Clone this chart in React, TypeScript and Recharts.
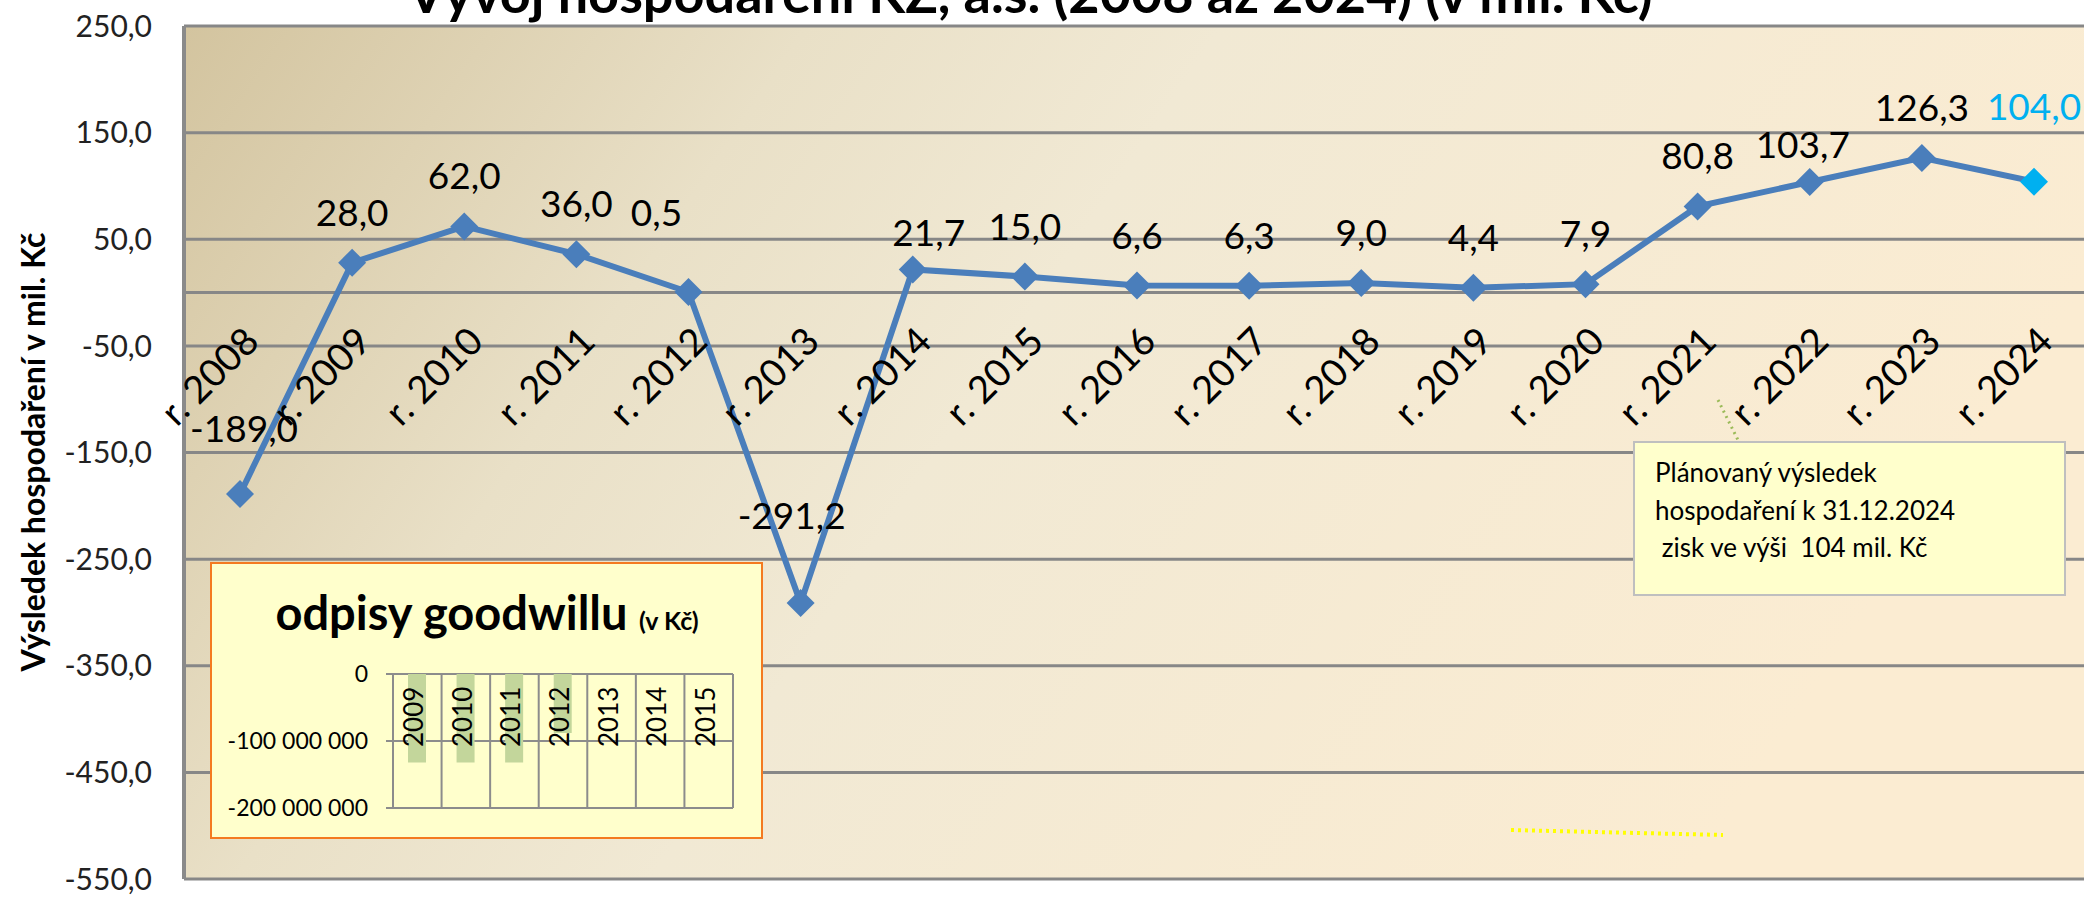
import {
  LineChart,
  Line,
  XAxis,
  YAxis,
  CartesianGrid,
  ReferenceLine,
  LabelList,
  BarChart,
  Bar,
} from 'recharts';

// main series: výsledek hospodaření (mil. Kč)
const years = [
  'r. 2008', 'r. 2009', 'r. 2010', 'r. 2011', 'r. 2012', 'r. 2013', 'r. 2014', 'r. 2015', 'r. 2016',
  'r. 2017', 'r. 2018', 'r. 2019', 'r. 2020', 'r. 2021', 'r. 2022', 'r. 2023', 'r. 2024',
];
const results = [
  -189.0, 28.0, 62.0, 36.0, 0.5, -291.2, 21.7, 15.0, 6.6, 6.3, 9.0, 4.4, 7.9, 80.8, 103.7, 126.3, 104.0,
];
const yTicks = [250, 150, 50, -50, -150, -250, -350, -450, -550];

// inset: odpisy goodwillu (Kč)
const gwYears = ['2009', '2010', '2011', '2012', '2013', '2014', '2015'];
const gwValues = [-132000000, -132000000, -132000000, -88000000, 0, 0, 0];
const gwTicks = [0, -100000000, -200000000];

const data = years.map((year, i) => ({ year, value: results[i] }));
const gwData = gwYears.map((year, i) => ({ year, value: gwValues[i] }));

const FONT = 'Lato, "Open Sans", sans-serif';
const BLUE = '#4a7ebb';
const CYAN = '#00b0f0';
const GRID = '#878787';

const Y_MIN = -550;
const Y_MAX = 250;
const PLOT_TOP = 26;
const PLOT_BOTTOM = 879;
const zeroY = PLOT_TOP + ((PLOT_BOTTOM - PLOT_TOP) * Y_MAX) / (Y_MAX - Y_MIN);

// hand-placed data labels in the original (dx, baseline dy)
const labelNudge: Record<string, [number, number]> = {
  'r. 2008': [4, -52],
  'r. 2012': [-32, -66],
  'r. 2013': [-9, -74],
  'r. 2014': [16, -23],
  'r. 2022': [-7, -24],
  'r. 2024': [0, -62],
};

const fmt1 = (v: number) => v.toFixed(1).replace('.', ',');
const fmtKc = (v: number) =>
  (v < 0 ? '-' : '') + String(Math.abs(v)).replace(/\B(?=(\d{3})+(?!\d))/g, ' ');

const Diamond = (props: any) => {
  const { cx, cy, index } = props;
  if (cx == null || cy == null) return null;
  const r = 14;
  return (
    <path
      key={`d-${index}`}
      d={`M${cx},${cy - r}L${cx + r},${cy}L${cx},${cy + r}L${cx - r},${cy}Z`}
      fill={index === years.length - 1 ? CYAN : BLUE}
    />
  );
};

const ValueLabel = (props: any) => {
  const { x, y, value, index } = props;
  const year = years[index];
  const [dx, dy] = labelNudge[year] ?? [0, -37];
  return (
    <text
      x={x + dx}
      y={y + dy}
      textAnchor="middle"
      fontFamily={FONT}
      fontSize={37}
      fill={index === years.length - 1 ? CYAN : '#000'}
    >
      {fmt1(value)}
    </text>
  );
};

const YearTick = (props: any) => {
  const { x, payload } = props;
  const ax = x + 21;
  const ay = zeroY + 51;
  return (
    <text
      x={ax}
      y={ay}
      textAnchor="end"
      transform={`rotate(-45 ${ax} ${ay})`}
      fontFamily={FONT}
      fontSize={38}
      fill="#000"
    >
      {payload.value}
    </text>
  );
};

const INSET_W = 553;
const INSET_H = 277;
const INSET_LEFT = 183;
const INSET_MARGIN = { top: 111, right: 30, bottom: 31, left: 0 };
const INSET_PLOT_TOP = 112;

const GwTick = (props: any) => {
  const { x, payload } = props;
  const ax = x + 6;
  const ay = INSET_PLOT_TOP + 73;
  return (
    <text
      x={ax}
      y={ay}
      transform={`rotate(-90 ${ax} ${ay})`}
      fontFamily={FONT}
      fontSize={26}
      fill="#000"
    >
      {payload.value}
    </text>
  );
};

function GoodwillInset() {
  const plotW = INSET_W - INSET_LEFT - INSET_MARGIN.right;
  return (
    <div style={{ position: 'absolute', left: 210, top: 562, width: INSET_W, height: INSET_H }}>
      <div
        style={{
          position: 'absolute',
          inset: 0,
          boxSizing: 'border-box',
          border: '2px solid #f47a20',
          background: '#ffffcc',
        }}
      />
      <div style={{ position: 'absolute', left: 0, top: 0 }}>
        <BarChart width={INSET_W} height={INSET_H} data={gwData} margin={INSET_MARGIN}>
          <CartesianGrid
            stroke="#8c8c8c"
            strokeWidth={2}
            verticalCoordinatesGenerator={() =>
              gwYears.map((_, i) => INSET_LEFT + (i * plotW) / gwYears.length).concat(INSET_LEFT + plotW)
            }
          />
          <XAxis
            dataKey="year"
            orientation="top"
            height={1}
            axisLine={false}
            tickLine={false}
            tick={(p: any) => <GwTick {...p} />}
            interval={0}
          />
          <YAxis
            width={INSET_LEFT}
            domain={[-200000000, 0]}
            ticks={gwTicks}
            tickFormatter={fmtKc}
            axisLine={false}
            tickLine={{ stroke: '#8c8c8c', strokeWidth: 2 }}
            tickSize={7}
            tickMargin={18}
            tick={{ fontFamily: FONT, fontSize: 23, fill: '#000' }}
          />
          <Bar dataKey="value" fill="#c3d69b" barSize={18} isAnimationActive={false} />
        </BarChart>
      </div>
      <svg
        width={INSET_W}
        height={INSET_H}
        style={{ position: 'absolute', left: 0, top: 0, pointerEvents: 'none' }}
      >
        <text x={277} y={68} textAnchor="middle" fontFamily={FONT} fontWeight="bold" fill="#000">
          <tspan fontSize={47}>odpisy goodwillu </tspan>
          <tspan fontSize={25}>(v Kč)</tspan>
        </text>
      </svg>
    </div>
  );
}

export default function App() {
  return (
    <div
      style={{
        position: 'absolute',
        left: 0,
        top: 0,
        width: 2084,
        height: 897,
        overflow: 'hidden',
        background: '#fff',
        fontFamily: FONT,
      }}
    >
      <div style={{ position: 'absolute', left: 0, top: 0 }}>
        <LineChart
          width={2090}
          height={897}
          data={data}
          margin={{ top: PLOT_TOP, right: 0, bottom: 897 - PLOT_BOTTOM - 1, left: 0 }}
        >
          <defs>
            <linearGradient id="plotBg" x1="0" y1="0" x2="1" y2="0.3">
              <stop offset="0" stopColor="#d3c49f" />
              <stop offset="0.3" stopColor="#e9e0c7" />
              <stop offset="0.5" stopColor="#f1e9d4" />
              <stop offset="1" stopColor="#fbecd2" />
            </linearGradient>
          </defs>
          <CartesianGrid vertical={false} stroke={GRID} strokeWidth={3} fill="url(#plotBg)" />
          <XAxis
            dataKey="year"
            height={1}
            axisLine={false}
            tickLine={false}
            tick={(p: any) => <YearTick {...p} />}
            interval={0}
            padding={{ left: 56, right: 56 }}
          />
          <YAxis
            width={184}
            domain={[Y_MIN, Y_MAX]}
            ticks={yTicks}
            tickFormatter={fmt1}
            axisLine={{ stroke: '#8a8a8a', strokeWidth: 4 }}
            tickLine={false}
            tickSize={0}
            tickMargin={32}
            tick={{ fontFamily: FONT, fontSize: 30, fill: '#222' }}
          />
          <ReferenceLine y={0} stroke={GRID} strokeWidth={3} />
          <Line
            type="linear"
            dataKey="value"
            stroke={BLUE}
            strokeWidth={6}
            dot={<Diamond />}
            activeDot={false}
            isAnimationActive={false}
          >
            <LabelList dataKey="value" content={<ValueLabel />} />
          </Line>
        </LineChart>
      </div>

      <svg
        width={2084}
        height={897}
        style={{ position: 'absolute', left: 0, top: 0, pointerEvents: 'none' }}
      >
        <text x={1030} y={13} textAnchor="middle" fontFamily={FONT} fontWeight="bold" fontSize={54}>
          Vývoj hospodaření KZ, a.s. (2008 až 2024) (v mil. Kč)
        </text>
        <text
          x={0}
          y={0}
          transform="translate(32 452) rotate(-90)"
          textAnchor="middle"
          dominantBaseline="central"
          fontFamily={FONT}
          fontWeight="bold"
          fontSize={32}
        >
          Výsledek hospodaření v mil. Kč
        </text>

        <line x1={1718} y1={400} x2={1738} y2={440} stroke="#9bbb59" strokeWidth={3} strokeDasharray="2 4" />
        <rect x={1634} y={442} width={431} height={153} fill="#ffffcc" stroke="#bfbfbf" strokeWidth={2} />
        <text fontFamily={FONT} fontSize={26} fill="#000" style={{ whiteSpace: 'pre' }}>
          <tspan x={1655} y={482}>Plánovaný výsledek</tspan>
          <tspan x={1655} y={520}>hospodaření k 31.12.2024</tspan>
          <tspan x={1655} y={557}> zisk ve výši  104 mil. Kč</tspan>
        </text>

        <line x1={1511} y1={830} x2={1723} y2={835} stroke="#ffff00" strokeWidth={4} strokeDasharray="3 4" />
      </svg>

      <GoodwillInset />
    </div>
  );
}
